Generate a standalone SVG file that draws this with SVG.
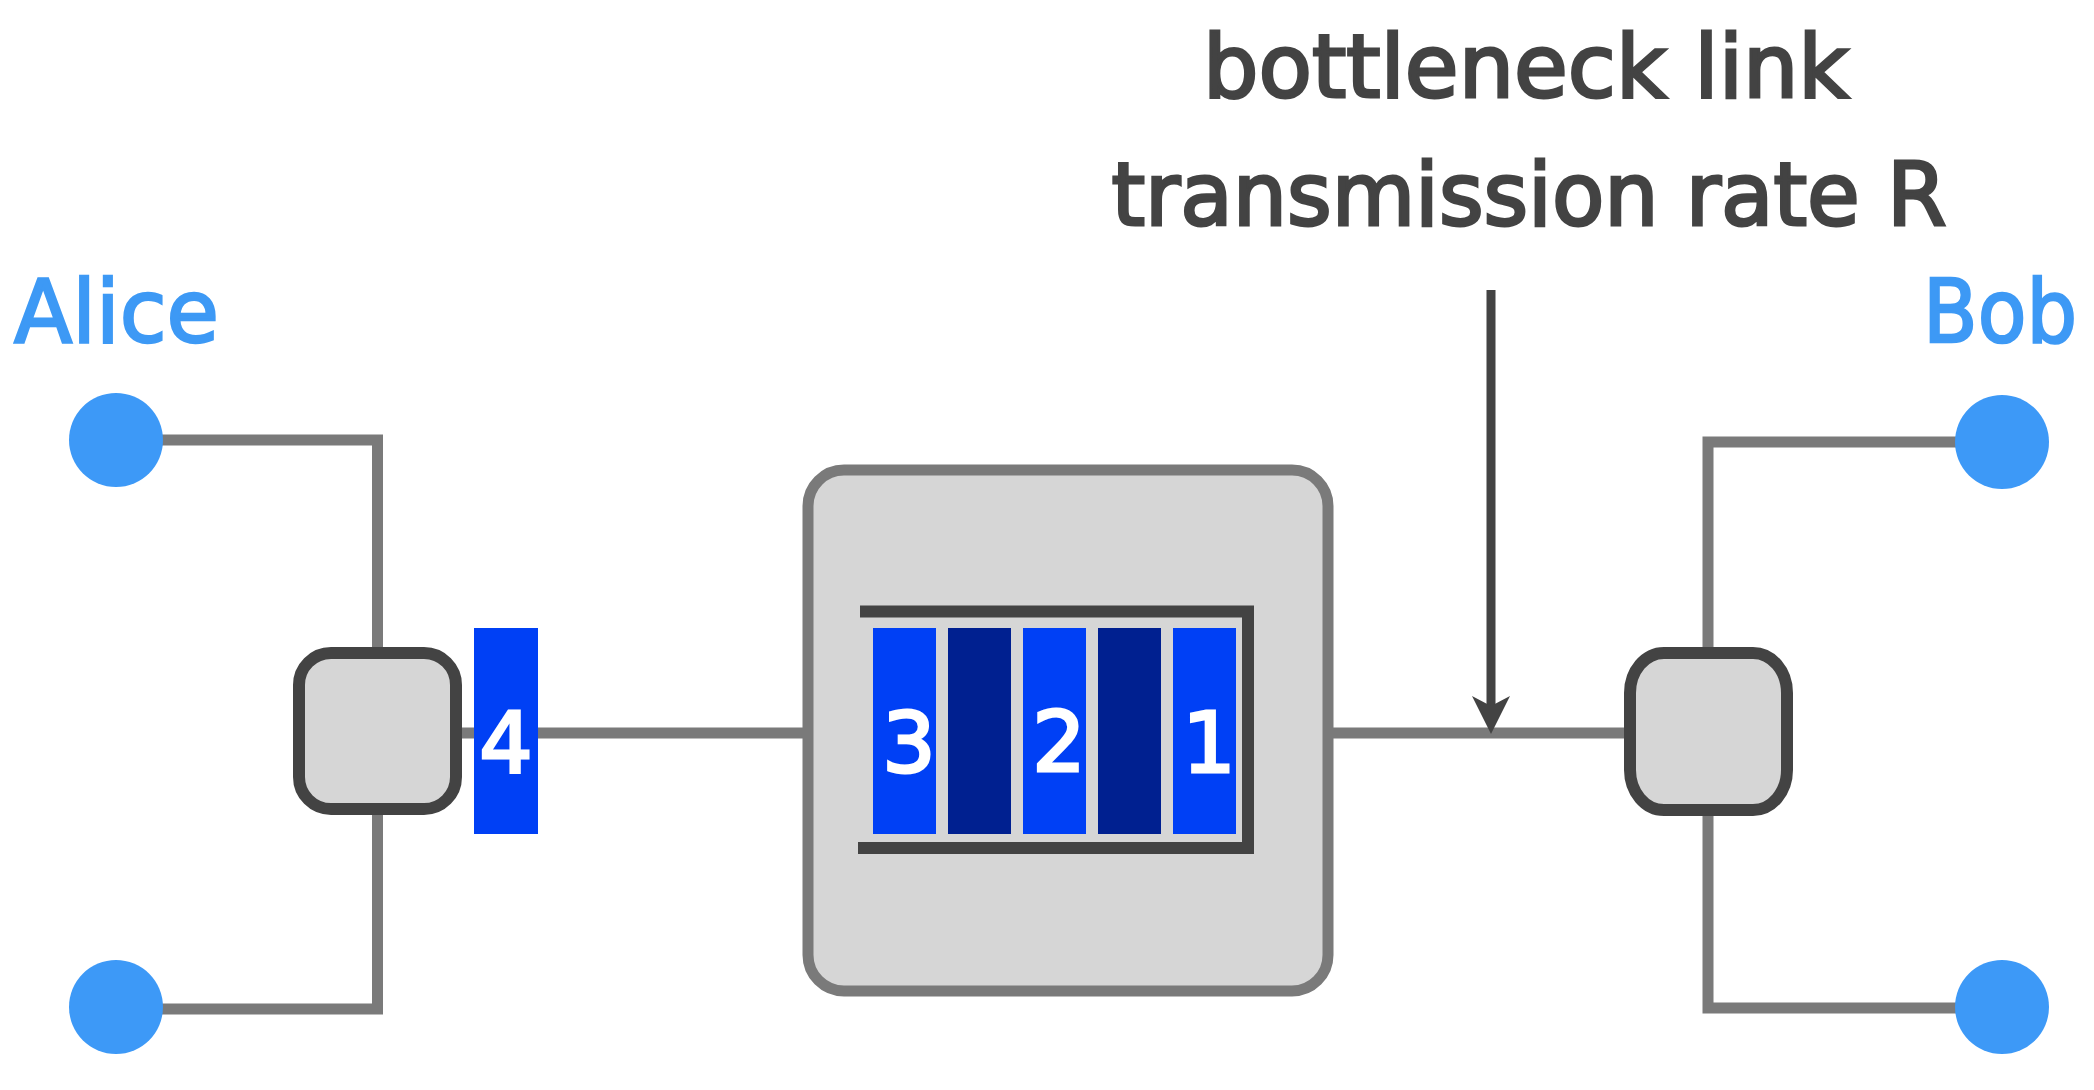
<svg xmlns="http://www.w3.org/2000/svg" width="2094" height="1090" viewBox="0 0 2094 1090">
<style>
.link{fill:none;stroke:#7a7a7a;stroke-width:11;stroke-linecap:butt}
.host{fill:#3d99f7}
.router{fill:#d6d6d6;stroke:#434343;stroke-width:12}
.pkt{fill:#0040f5}
.gap{fill:#002090}
.digit{font-family:"DejaVu Sans",sans-serif;font-size:84px;fill:#ffffff;stroke:#ffffff;stroke-width:3;text-anchor:middle}
.name{font-family:"DejaVu Sans",sans-serif;font-size:88px;fill:#3d99f5;stroke:#3d99f5;stroke-width:2.5}
.title{font-family:"DejaVu Sans",sans-serif;font-size:88px;fill:#434343;stroke:#434343;stroke-width:3;text-anchor:middle}
</style>
<defs>
<marker id="arrow" markerUnits="userSpaceOnUse" markerWidth="40" markerHeight="40" refX="19" refY="38" orient="auto-start-reverse" viewBox="0 0 40 40">
<path d="M0,0 L19,38 L38,0 L19,10 Z" fill="#434343" transform="rotate(0)"/>
</marker>
</defs>
<rect width="2094" height="1090" fill="#ffffff"/>
<g id="connectors">
<polyline class="link" points="116,440 377.5,440 377.5,653"/>
<polyline class="link" points="116,1009 377.5,1009 377.5,809"/>
<line class="link" x1="462" y1="733" x2="808" y2="733"/>
<line class="link" x1="1328" y1="733" x2="1630" y2="733"/>
<polyline class="link" points="2002,442 1708,442 1708,653"/>
<polyline class="link" points="2002,1008 1708,1008 1708,809"/>
<g id="rate-arrow">
<line x1="1491" y1="290" x2="1491" y2="712" stroke="#434343" stroke-width="9"/>
<path d="M1491,734 L1472,696 L1491,706 L1510,696 Z" fill="#434343"/>
</g>
</g>
<g id="alice-top"><circle class="host" cx="116" cy="440" r="47"/></g>
<g id="alice-bottom"><circle class="host" cx="116" cy="1007" r="47"/></g>
<g id="bob-top"><circle class="host" cx="2002" cy="442" r="47"/></g>
<g id="bob-bottom"><circle class="host" cx="2002" cy="1007" r="47"/></g>
<g id="router-left"><rect class="router" x="299" y="653" width="157" height="156" rx="32"/></g>
<g id="router-right"><rect class="router" x="1630" y="653" width="157" height="157" rx="34" ry="40"/></g>
<g id="packet-4">
<rect class="pkt" x="474" y="628" width="64" height="206"/>
<text class="digit" x="506" y="772">4</text>
</g>
<g id="bottleneck-router">
<rect x="808" y="470" width="520" height="521" rx="36" fill="#d6d6d6" stroke="#7a7a7a" stroke-width="11"/>
<polyline points="860,611.5 1248,611.5 1248,848 858,848" fill="none" stroke="#434343" stroke-width="12"/>
<rect class="pkt" x="873" y="628" width="63" height="206"/>
<rect class="gap" x="948" y="628" width="63" height="206"/>
<rect class="pkt" x="1023" y="628" width="63" height="206"/>
<rect class="gap" x="1098" y="628" width="63" height="206"/>
<rect class="pkt" x="1173" y="628" width="63" height="206"/>
<text class="digit" x="909" y="772">3</text>
<text class="digit" x="1059" y="771">2</text>
<text class="digit" x="1209" y="772">1</text>
</g>
<g id="labels">
<text class="name" x="14" y="342" textLength="205" lengthAdjust="spacingAndGlyphs">Alice</text>
<text class="name" x="1923" y="342" textLength="154" lengthAdjust="spacingAndGlyphs">Bob</text>
<text class="title" x="1526" y="97" textLength="646" lengthAdjust="spacingAndGlyphs">bottleneck link</text>
<text class="title" x="1529" y="225" textLength="835" lengthAdjust="spacingAndGlyphs">transmission rate R</text>
</g>
</svg>
